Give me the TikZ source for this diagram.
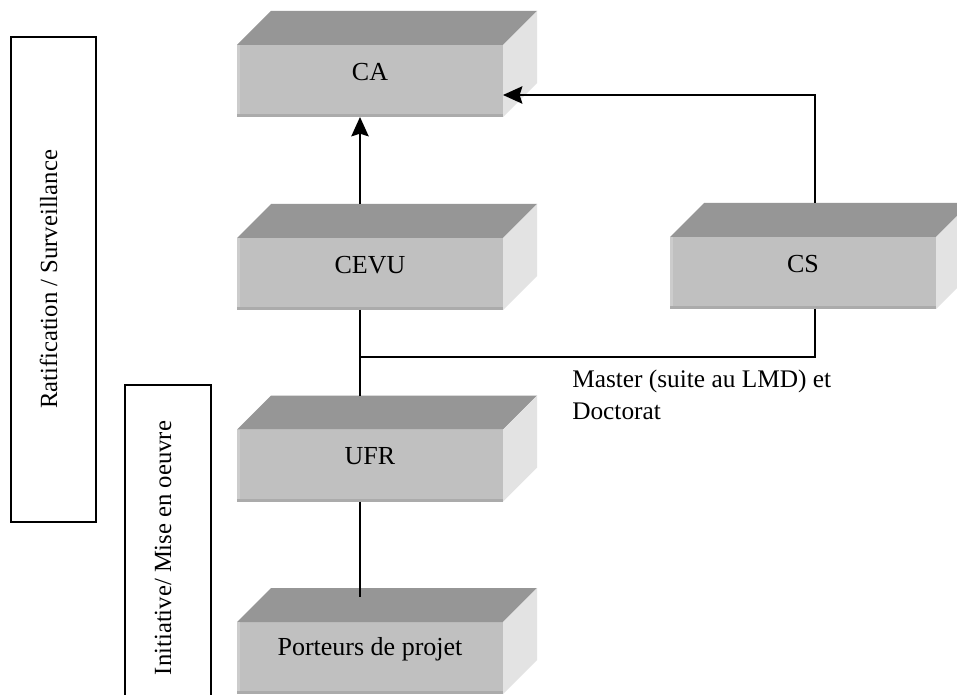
\documentclass[tikz,border=0pt]{standalone}
\usepackage{fontspec}
\setmainfont{Liberation Serif}
\usetikzlibrary{arrows.meta,calc}
\definecolor{topg}{HTML}{969696}
\definecolor{frontg}{HTML}{C0C0C0}
\definecolor{sideg}{HTML}{E3E3E3}
\definecolor{edgeg}{HTML}{ABABAB}
\definecolor{leftg}{HTML}{CCCCCC}
\tikzset{
  frontbox/.style={rectangle, fill=frontg, draw=none, inner sep=0pt, outer sep=0pt,
    minimum width=199.5pt, minimum height=54pt},
  boxlabel/.style={inner sep=0pt, font=\fontsize{19.5}{23}\selectfont},
  conn/.style={line width=1.5pt, black},
  tip/.style={-{Stealth[length=14.5pt,width=13pt,inset=2pt]}},
  sidebox/.style={line width=1.5pt, draw=black, fill=none},
  sidelabel/.style={inner sep=0pt, rotate=90, font=\fontsize{18.5}{22}\selectfont},
}
\newcommand\drawcube[4]{%
  \node[frontbox] (#1) at (#2,#3) {};
  \fill[topg] (#1.north west) -- ++(34,-34) -- ($(#1.north east)+(34,-34)$) -- (#1.north east) -- cycle;
  \fill[sideg] (#1.north east) -- ++(34,-34) -- ($(#1.south east)+(34,-34)$) -- (#1.south east) -- cycle;
  \fill[edgeg] ($(#1.south west)+(0,-3)$) rectangle (#1.south east);
  \fill[leftg] (#1.north west) rectangle ($(#1.south west)+(3,-3)$);
  \node[boxlabel] (#1-t) at ($(#1.center)+(0,-9)$) {#4};
}
\begin{document}
\begin{tikzpicture}[x=0.75pt,y=-0.75pt]
\useasboundingbox (0,0) rectangle (957,695);
\clip (0,0) rectangle (957,695);
\fill[white] (0,0) rectangle (957,695);

% side bands
\node[sidebox, minimum width=63.75pt, minimum height=363.75pt, inner sep=0pt] (band1) at (53.5,279.5) {};
\node[sidelabel] (band1-t) at ($(band1.center)+(-5,0)$) {Ratification / Surveillance};
\node[sidebox, minimum width=64.5pt, minimum height=244.5pt, inner sep=0pt] (band2) at (168,548) {};
\node[sidelabel] (band2-t) at ($(band2.center)+(-5,0)$) {Initiative/ Mise en oeuvre};

% boxes
\drawcube{ca}{370}{81}{CA}
\drawcube{cevu}{370}{274}{CEVU}
\drawcube{cs}{803}{273}{CS}
\drawcube{ufr}{370}{465.5}{UFR}
\drawcube{pp}{370}{658}{Porteurs de projet}

% connectors
\draw[conn,tip] ($(cevu.north)+(-10,-34)$) -- ($(ca.south)+(-10,0)$);
\draw[conn,tip] ($(cs.north)+(12,-34)$) |- ($(ca.east)+(0,14)$);
\coordinate (jn) at ($(cevu.south)+(-10,47)$);
\draw[conn] ($(cs.south)+(12,0)$) |- (jn);
\draw[conn] ($(cevu.south)+(-10,0)$) -- ($(ufr.north)+(-10,-34)$);
\draw[conn] ($(ufr.south)+(-10,0)$) -- ($(pp.north)+(-10,-25)$);

% label
\node[anchor=north west, inner sep=0pt, align=left, font=\fontsize{19}{24}\selectfont] (lmd) at (572,370) {Master (suite au LMD) et\\Doctorat};
\end{tikzpicture}
\end{document}
